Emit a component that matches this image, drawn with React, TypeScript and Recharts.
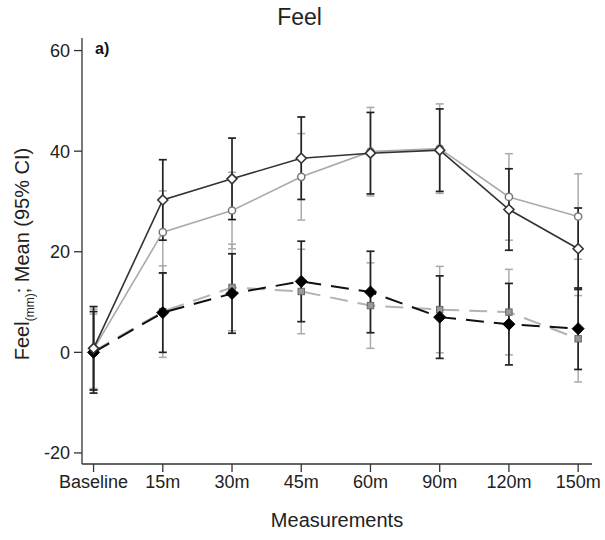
import React from 'react';
import { LineChart, Line, XAxis, YAxis, ErrorBar } from 'recharts';

const categories = ['Baseline', '15m', '30m', '45m', '60m', '90m', '120m', '150m'];
const yTicks = [-20, 0, 20, 40, 60];

// solid lines (upper group)
const solidDark = [0.8, 30.3, 34.5, 38.6, 39.6, 40.2, 28.4, 20.6];
const solidDarkCI = [8.3, 8.0, 8.1, 8.2, 8.1, 8.2, 8.1, 8.1];
const solidGray = [0.6, 23.9, 28.2, 34.9, 39.9, 40.5, 30.9, 27.0];
const solidGrayCI = [8.0, 8.2, 7.6, 8.6, 8.8, 8.9, 8.6, 8.5];

// dashed lines (lower group)
const dashDark = [0, 7.9, 11.7, 14.1, 12.0, 7.0, 5.6, 4.7];
const dashDarkCI = [8.1, 7.9, 7.9, 8.0, 8.1, 8.2, 8.1, 8.1];
const dashGray = [0.2, 8.1, 12.9, 12.1, 9.3, 8.5, 8.0, 2.7];
const dashGrayCI = [7.4, 9.1, 8.6, 8.4, 8.5, 8.6, 8.5, 8.6];

const data = categories.map((c, i) => ({
  idx: i,
  name: c,
  sd: solidDark[i],
  sdErr: solidDarkCI[i],
  sg: solidGray[i],
  sgErr: solidGrayCI[i],
  dd: dashDark[i],
  ddErr: dashDarkCI[i],
  dg: dashGray[i],
  dgErr: dashGrayCI[i],
}));

const FONT = '"Liberation Sans", Arial, Helvetica, sans-serif';

const OpenDiamond = (props: any) => {
  const { cx, cy, index } = props;
  if (cx == null || cy == null) return <g key={`od-${index}`} />;
  const r = 5;
  return (
    <path
      key={`od-${index}`}
      d={`M${cx},${cy - r} L${cx + r},${cy} L${cx},${cy + r} L${cx - r},${cy} Z`}
      fill="#fff"
      stroke="#333"
      strokeWidth={1.6}
    />
  );
};

const OpenCircle = (props: any) => {
  const { cx, cy, index } = props;
  if (cx == null || cy == null) return <g key={`oc-${index}`} />;
  return <circle key={`oc-${index}`} cx={cx} cy={cy} r={3.6} fill="#fff" stroke="#777" strokeWidth={1.5} />;
};

const FilledDiamond = (props: any) => {
  const { cx, cy, index } = props;
  if (cx == null || cy == null) return <g key={`fd-${index}`} />;
  const r = 6;
  return (
    <path
      key={`fd-${index}`}
      d={`M${cx},${cy - r} L${cx + r},${cy} L${cx},${cy + r} L${cx - r},${cy} Z`}
      fill="#000"
      stroke="#000"
      strokeWidth={1}
    />
  );
};

const GraySquare = (props: any) => {
  const { cx, cy, index } = props;
  if (cx == null || cy == null) return <g key={`gs-${index}`} />;
  const s = 3.2;
  return (
    <rect key={`gs-${index}`} x={cx - s} y={cy - s} width={s * 2} height={s * 2} fill="#999" stroke="#666" strokeWidth={1} />
  );
};

const App: React.FC = () => {
  return (
    <div style={{ position: 'absolute', left: 0, top: 0, width: 605, height: 540, background: '#fff', fontFamily: FONT }}>
      <div style={{ position: 'absolute', left: 0, width: 605, top: 4, textAlign: 'center', fontSize: 23, color: '#222' }}>
        <span style={{ position: 'relative', left: -3 }}>Feel</span>
      </div>
      <div
        style={{
          position: 'absolute',
          left: 24,
          top: 254,
          transform: 'translate(-50%, -50%) rotate(-90deg)',
          whiteSpace: 'nowrap',
          fontSize: 20,
          color: '#222',
        }}
      >
        Feel<sub style={{ fontSize: 12 }}>(mm)</sub>; Mean (95% CI)
      </div>
      <div style={{ position: 'absolute', left: 82, width: 510, top: 509, textAlign: 'center', fontSize: 20, color: '#222' }}>
        Measurements
      </div>
      <div style={{ position: 'absolute', left: 95, top: 40, fontSize: 16, fontWeight: 'bold', color: '#111' }}>a)</div>

      <LineChart width={605} height={540} data={data} margin={{ top: 38, right: 13, bottom: 46, left: 0 }}>
        <XAxis
          dataKey="idx"
          type="number"
          domain={[-0.167, 7.2]}
          ticks={[0, 1, 2, 3, 4, 5, 6, 7]}
          interval={0}
          allowDataOverflow
          tickFormatter={(v: number) => categories[v]}
          height={30}
          stroke="#333"
          strokeWidth={1.3}
          tickSize={8}
          tickMargin={3}
          tick={{ fill: '#222', fontSize: 18, fontFamily: FONT }}
        />
        <YAxis
          type="number"
          domain={[-22.2, 62.5]}
          ticks={yTicks}
          interval={0}
          allowDataOverflow
          width={82}
          stroke="#333"
          strokeWidth={1.3}
          tickSize={8}
          tickMargin={4}
          tick={{ fill: '#222', fontSize: 18, fontFamily: FONT }}
        />
        <Line
          type="linear"
          dataKey="dg"
          stroke="#b3b3b3"
          strokeWidth={2}
          strokeDasharray="18 10"
          dot={GraySquare}
          activeDot={false}
          isAnimationActive={false}
        >
          <ErrorBar dataKey="dgErr" direction="y" width={4} stroke="#aaa" strokeWidth={1.5} />
        </Line>
        <Line
          type="linear"
          dataKey="sg"
          stroke="#aaa"
          strokeWidth={1.6}
          dot={OpenCircle}
          activeDot={false}
          isAnimationActive={false}
        >
          <ErrorBar dataKey="sgErr" direction="y" width={4} stroke="#aaa" strokeWidth={1.5} />
        </Line>
        <Line
          type="linear"
          dataKey="dd"
          stroke="#111"
          strokeWidth={2}
          strokeDasharray="18 10"
          dot={FilledDiamond}
          activeDot={false}
          isAnimationActive={false}
        >
          <ErrorBar dataKey="ddErr" direction="y" width={4} stroke="#222" strokeWidth={1.7} />
        </Line>
        <Line
          type="linear"
          dataKey="sd"
          stroke="#333"
          strokeWidth={1.6}
          dot={OpenDiamond}
          activeDot={false}
          isAnimationActive={false}
        >
          <ErrorBar dataKey="sdErr" direction="y" width={4} stroke="#222" strokeWidth={1.7} />
        </Line>
      </LineChart>
    </div>
  );
};

export default App;
